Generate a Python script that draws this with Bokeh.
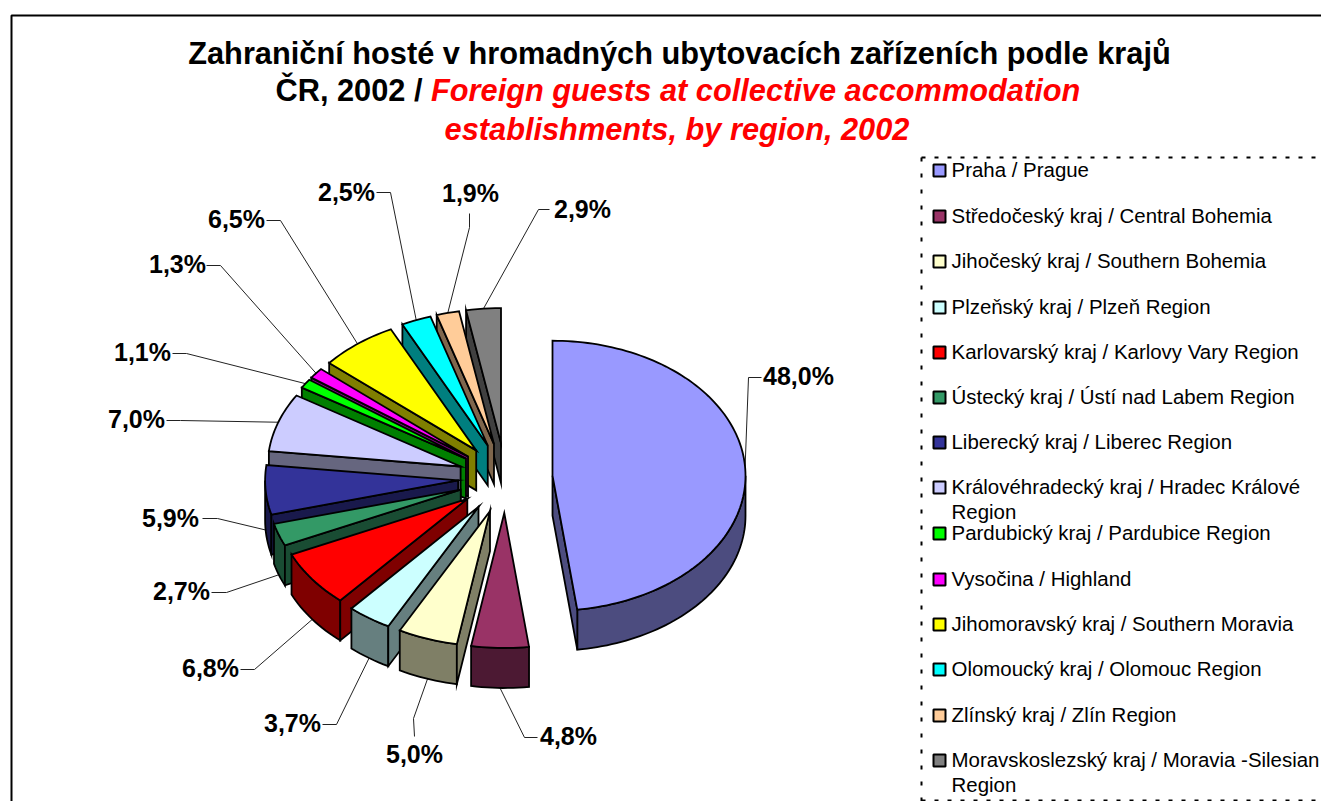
import math
from bokeh.plotting import figure
from bokeh.embed import file_html
from bokeh.resources import INLINE
from bokeh.core.properties import value
from bokeh.models import Range1d

regions = ["Praha / Prague", "Středočeský kraj / Central Bohemia", "Jihočeský kraj / Southern Bohemia",
           "Plzeňský kraj / Plzeň Region", "Karlovarský kraj / Karlovy Vary Region", "Ústecký kraj / Ústí nad Labem Region",
           "Liberecký kraj / Liberec Region", "Královéhradecký kraj / Hradec Králové\nRegion",
           "Pardubický kraj / Pardubice Region", "Vysočina / Highland", "Jihomoravský kraj / Southern Moravia",
           "Olomoucký kraj / Olomouc Region", "Zlínský kraj / Zlín Region", "Moravskoslezský kraj / Moravia -Silesian\nRegion"]
shares = [48.0, 4.8, 5.0, 3.7, 6.8, 2.7, 5.9, 7.0, 1.1, 1.3, 6.5, 2.5, 1.9, 2.9]
colors = ["#9999FF", "#993366", "#FFFFCC", "#CCFFFF", "#FF0000", "#339966", "#333399",
          "#CCCCFF", "#00FF00", "#FF00FF", "#FFFF00", "#00FFFF", "#FFCC99", "#808080"]

# layout (page pixels)
CX, CY, RX, RY, EX, EY, DEPTH = 504.8, 477.5, 193, 135, 47.3, 35, 40
label_xy = [(798, 375.5), (568, 735.5), (414, 753.5), (292, 722.5), (210, 667.5), (181, 590.5), (170, 517.5),
            (136, 418.5), (142, 351.5), (177, 263.5), (236, 218.5), (346, 191.5), (470, 192.5), (582, 208.5)]
leader_start = [[(761, 377), (748, 377)], [(537, 737), (524, 737)], [(414, 736), (413, 718)],
                [(322, 724), (336, 724)], [(240, 669), (254, 669)], [(211, 592), (226, 592)],
                [(202, 518), (217, 518)], [(166, 420), (180, 420)], [(172, 353), (186, 353)],
                [(206, 265), (220, 265)], [(266, 220), (280, 220)], [(376, 192), (390, 192)],
                [(469, 213), (469, 227)], [(549, 209), (538, 209)]]
legend_y = [169, 215, 260, 306, 351, 396, 441, 486, 532, 578, 623, 668, 714, 759]

FONT = value("Liberation Sans")


def shade(c):
    return "#" + "".join(f"{int(c[i:i + 2], 16) // 2:02X}" for i in (1, 3, 5))


total = sum(shares)
spans = []
acc = 0.0
for s in shares:
    spans.append((acc / total * 360, (acc + s) / total * 360))
    acc += s


def rim(ax, ay, deg, d=0):
    r = math.radians(deg)
    return ax + RX * math.sin(r), ay - RY * math.cos(r) + d


def arc(ax, ay, a0, a1, d=0, step=1.5):
    n = max(2, int(abs(a1 - a0) / step) + 1)
    return [rim(ax, ay, a0 + (a1 - a0) * k / (n - 1), d) for k in range(n)]


px, py, pc = [], [], []


def face(points, color):
    px.append([q[0] for q in points])
    py.append([q[1] for q in points])
    pc.append(color)


lead_x, lead_y = [], []
order = sorted(range(len(shares)), key=lambda i: -math.cos(math.radians(sum(spans[i]) / 2)))
for i in order:
    a0, a1 = spans[i]
    mid = math.radians((a0 + a1) / 2)
    ax, ay = CX + EX * math.sin(mid), CY - EY * math.cos(mid)
    dark = shade(colors[i])
    lo, hi = max(a0, 90), min(a1, 270)
    if hi > lo:
        face(arc(ax, ay, lo, hi) + arc(ax, ay, hi, lo, DEPTH), dark)
    if math.sin(math.radians(a1)) > 1e-6:
        e = rim(ax, ay, a1)
        face([(ax, ay), e, (e[0], e[1] + DEPTH), (ax, ay + DEPTH)], dark)
    if math.sin(math.radians(a0)) < -1e-6:
        e = rim(ax, ay, a0)
        face([(ax, ay), e, (e[0], e[1] + DEPTH), (ax, ay + DEPTH)], dark)
    face([(ax, ay)] + arc(ax, ay, a0, a1), colors[i])
    end = rim(ax, ay, math.degrees(mid), DEPTH if math.cos(mid) < 0 else 0)
    pts = leader_start[i] + [end]
    lead_x.append([q[0] for q in pts])
    lead_y.append([q[1] for q in pts])

p = figure(width=1321, height=801, x_range=Range1d(0, 1321), y_range=Range1d(801, 0),
           output_backend="svg", toolbar_location=None, min_border=0, outline_line_color=None,
           background_fill_color="white", border_fill_color="white")
p.axis.visible = False
p.grid.visible = False

# chart frame and legend box
p.line([11, 11, 1321], [801, 15, 15], line_color="black", line_width=2)
p.line([921, 921], [801, 157], line_color="black", line_width=2, line_dash="4 12")
p.line([921, 1321], [157, 157], line_color="black", line_width=2, line_dash="4 9")
p.line([921, 1321], [800, 800], line_color="black", line_width=2, line_dash="4 9")

p.multi_line(lead_x, lead_y, line_color="#222222", line_width=1)
p.patches(px, py, fill_color=pc, line_color="black", line_width=1.8, line_join="miter")

# percentage labels
p.text([q[0] for q in label_xy], [q[1] for q in label_xy],
       text=[f"{s:.1f}%".replace(".", ",") for s in shares],
       text_font=FONT, text_font_size=value("25px"), text_font_style="bold",
       text_align="center", text_baseline="middle", text_color="black")

# title
common = dict(text_font=FONT, text_font_size=value("30.75px"), text_baseline="middle")
p.text([679], [52.5], text=["Zahraniční hosté v hromadných ubytovacích zařízeních podle krajů"],
       text_font_style="bold", text_align="center", text_color="black", **common)
p.text([275], [90], text=["ČR, 2002 /"], text_font_style="bold", text_align="left", text_color="black", **common)
p.text([430.5], [90], text=["Foreign guests at collective accommodation"], text_font_style="bold italic",
       text_align="left", text_color="#FF0000", **common)
p.text([676.5], [129], text=["establishments, by region, 2002"], text_font_style="bold italic",
       text_align="center", text_color="#FF0000", **common)

# legend
p.rect([939] * len(colors), [y + 1 for y in legend_y], width=12, height=12, fill_color=colors,
       line_color="black", line_width=2)
tx, ty, tt = [], [], []
for name, y in zip(regions, legend_y):
    for k, line in enumerate(name.split("\n")):
        tx.append(951)
        ty.append(y + 25 * k)
        tt.append(line)
p.text(tx, ty, text=tt, text_font=FONT, text_font_size=value("20.45px"), text_align="left",
       text_baseline="middle", text_color="black")

open("out.html", "w").write(file_html(p, INLINE))
